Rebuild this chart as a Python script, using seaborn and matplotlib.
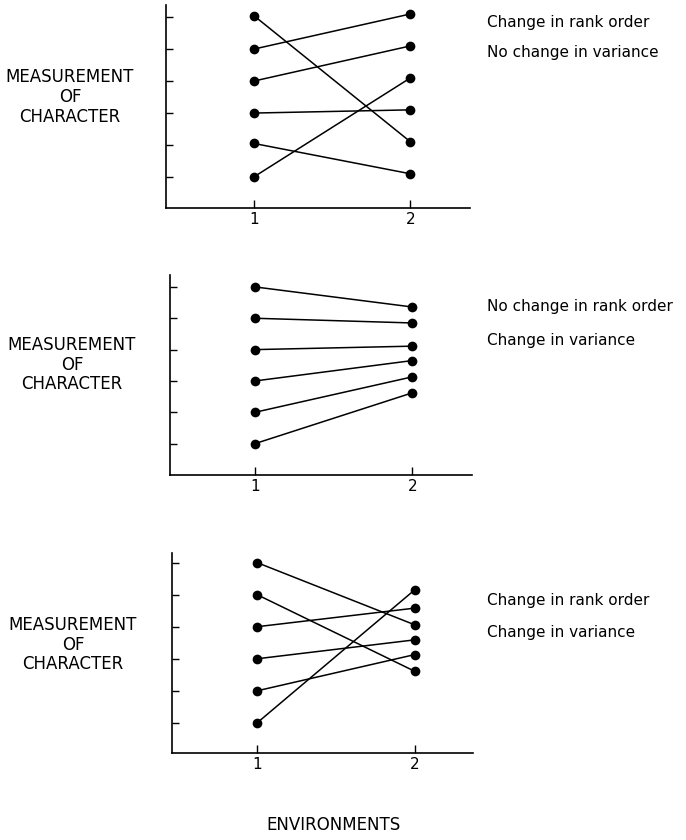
import pandas as pd
import numpy as np
import matplotlib
matplotlib.use("Agg")
import matplotlib.pyplot as plt
import seaborn as sns

# data (six genotypes, two environments)
environments = [1, 2]
p1_env1 = [6.05, 5.0, 4.0, 3.0, 2.05, 1.0]
p1_env2 = [2.1, 6.1, 5.1, 3.1, 1.1, 4.1]
p2_env1 = [6.0, 5.0, 4.0, 3.0, 2.0, 1.0]
p2_env2 = [5.36, 4.85, 4.11, 3.65, 3.13, 2.62]
p3_env1 = [6.0, 5.0, 4.0, 3.0, 2.0, 1.0]
p3_env2 = [4.06, 2.61, 4.58, 3.59, 3.13, 5.15]
yticks = [1, 2, 3, 4, 5, 6]

ylabel_lines = ["MEASUREMENT", "OF", "CHARACTER"]
notes1 = ["Change in rank order", "No change in variance"]
notes2 = ["No change in rank order", "Change in variance"]
notes3 = ["Change in rank order", "Change in variance"]
xlabel = "ENVIRONMENTS"

sns.set_style("white")
plt.rcParams['font.family'] = ['DejaVu Sans']
plt.rcParams['text.color'] = 'black'

W, H = 686, 840
fig = plt.figure(figsize=(W / 100, H / 100), dpi=100)


def px_axes(l, r, t, b):
    return fig.add_axes([l / W, 1 - b / H, (r - l) / W, (b - t) / H])


def make_df(e1, e2):
    rows = []
    for g, (a, b) in enumerate(zip(e1, e2)):
        rows.append({"env": environments[0], "value": a, "geno": g})
        rows.append({"env": environments[1], "value": b, "geno": g})
    return pd.DataFrame(rows)


panels = [
    (p1_env1, p1_env2, (166, 470, 5, 208), (0.44, 2.38), (0.03, 6.38), notes1, (77, 97, 117), 70, (22, 52)),
    (p2_env1, p2_env2, (170, 472, 275, 475), (0.46, 2.38), (0.0, 6.38), notes2, (345, 365, 384), 72, (307, 340)),
    (p3_env1, p3_env2, (172, 473, 553, 753), (0.46, 2.37), (0.06, 6.3), notes3, (625, 645, 664), 73, (600, 632)),
]

for e1, e2, box, xl, yl, notes, ly, lx, ny in panels:
    ax = px_axes(*box)
    df = make_df(e1, e2)
    sns.lineplot(data=df, x="env", y="value", units="geno", estimator=None,
                 color="black", lw=1.1, marker="o", markersize=7,
                 markeredgewidth=0, ax=ax)
    ax.set_xlim(*xl)
    ax.set_ylim(*yl)
    ax.set_xticks(environments)
    ax.set_xticklabels([str(e) for e in environments], fontsize=11, color="black")
    ax.set_yticks(yticks)
    ax.set_yticklabels([])
    ax.tick_params(axis="both", direction="in", color="black", width=1.0,
                   left=True, bottom=True)
    ax.tick_params(axis="y", length=5)
    ax.tick_params(axis="x", length=6, pad=3)
    ax.set_xlabel("")
    ax.set_ylabel("")
    for s in ["top", "right"]:
        ax.spines[s].set_visible(False)
    for s in ["left", "bottom"]:
        ax.spines[s].set_color("black")
        ax.spines[s].set_linewidth(1.2)
    ax.patch.set_alpha(0)
    for txt, yy in zip(ylabel_lines, ly):
        fig.text(lx / W, 1 - yy / H, txt, ha="center", va="center", fontsize=12)
    for txt, yy in zip(notes, ny):
        fig.text(487 / W, 1 - yy / H, txt, ha="left", va="center", fontsize=11)

fig.text(333 / W, 1 - 825 / H, xlabel, ha="center", va="center", fontsize=12)

fig.savefig("out.png", dpi=100, facecolor="white")
